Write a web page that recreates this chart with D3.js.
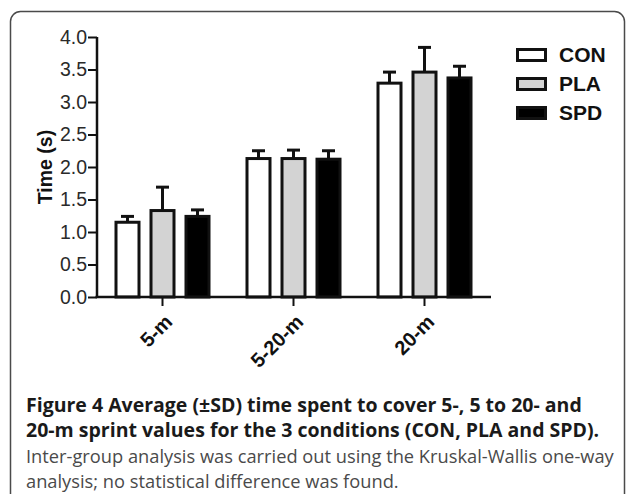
<!DOCTYPE html>
<html>
<head>
<meta charset="utf-8">
<script src="https://cdn.jsdelivr.net/npm/d3@7/dist/d3.min.js"></script>
<style>
  html, body { margin: 0; padding: 0; background: #fff; }
  svg { display: block; }
</style>
</head>
<body>
<svg id="chart" width="627" height="494"></svg>
<script>
// ---- data ----
const groups = ["5-m", "5-20-m", "20-m"];
const series = ["CON", "PLA", "SPD"];
const seriesColors = ["#ffffff", "#d3d3d3", "#000000"];
const conMean = [1.15, 2.13, 3.29];
const plaMean = [1.33, 2.13, 3.46];
const spdMean = [1.24, 2.12, 3.37];
const conSD = [0.09, 0.12, 0.17];
const plaSD = [0.36, 0.13, 0.38];
const spdSD = [0.10, 0.13, 0.18];
const yTicks = [0, 0.5, 1, 1.5, 2, 2.5, 3, 3.5, 4];
const yTitle = "Time (s)";
const captionBold = [
  "Figure 4 Average (\u00b1SD) time spent to cover 5-, 5 to 20- and",
  "20-m sprint values for the 3 conditions (CON, PLA and SPD)."
];
const captionPlain = [
  "Inter-group analysis was carried out using the Kruskal-Wallis one-way",
  "analysis; no statistical difference was found."
];

const means = [conMean, plaMean, spdMean];
const sds = [conSD, plaSD, spdSD];
const rows = [];
groups.forEach((g, gi) => series.forEach((s, si) => {
  rows.push({ g, s, si, mean: means[si][gi], sd: sds[si][gi] });
}));

const svg = d3.select("#chart");

// frame
svg.append("rect")
  .attr("x", 10.5).attr("y", 11.5).attr("width", 614).attr("height", 520)
  .attr("rx", 10).attr("fill", "none").attr("stroke", "#4a4a4a").attr("stroke-width", 1.5);

// scales
const x0 = d3.scaleBand().domain(groups).range([97, 490]).paddingInner(0).paddingOuter(0);
const x1 = d3.scalePoint().domain(series).range([-35, 35]);
const y = d3.scaleLinear().domain([0, 4]).range([297, 37]);

const barW = 23;
const ink = "#111";
const chartFont = "Liberation Sans, Arial, sans-serif";

const g = svg.append("g");
const cx = d => x0(d.g) + x0.bandwidth() / 2 + x1(d.s);

// error bars (upper only)
g.selectAll("line.err").data(rows).join("line")
  .attr("class", "err")
  .attr("x1", cx).attr("x2", cx)
  .attr("y1", d => y(d.mean)).attr("y2", d => y(d.mean + d.sd))
  .attr("stroke", ink).attr("stroke-width", 3);
g.selectAll("line.cap").data(rows).join("line")
  .attr("class", "cap")
  .attr("x1", d => cx(d) - 6.5).attr("x2", d => cx(d) + 6.5)
  .attr("y1", d => y(d.mean + d.sd)).attr("y2", d => y(d.mean + d.sd))
  .attr("stroke", ink).attr("stroke-width", 3);

// bars
g.selectAll("rect.bar").data(rows).join("rect")
  .attr("class", "bar")
  .attr("x", d => cx(d) - barW / 2)
  .attr("width", barW)
  .attr("y", d => y(d.mean))
  .attr("height", d => y(0) - y(d.mean))
  .attr("fill", d => seriesColors[d.si])
  .attr("stroke", ink).attr("stroke-width", 3);

// y axis
const yAxis = svg.append("g").attr("transform", "translate(97,0)")
  .call(d3.axisLeft(y).tickValues(yTicks).tickFormat(d3.format(".1f")).tickSize(9).tickPadding(1));
yAxis.select(".domain").attr("d", `M0,${y(4)}V${y(0)}`).attr("stroke", ink).attr("stroke-width", 2.5);
yAxis.selectAll(".tick line").attr("stroke", ink).attr("stroke-width", 2);
yAxis.selectAll(".tick text")
  .attr("font-family", chartFont)
  .attr("font-size", 19.5).attr("fill", "#2a2a2a");

// x axis
const xAxis = svg.append("g").attr("transform", `translate(0,${y(0)})`)
  .call(d3.axisBottom(x0).tickSize(9).tickSizeOuter(0).tickFormat(""));
xAxis.select(".domain").attr("d", `M95.5,0H491`).attr("stroke", ink).attr("stroke-width", 2.5);
xAxis.selectAll(".tick line").attr("stroke", ink).attr("stroke-width", 2);

// x labels rotated
svg.append("g").selectAll("text").data(groups).join("text")
  .attr("transform", d => `translate(${x0(d) + x0.bandwidth() / 2 + 1},${y(0) + 16}) rotate(-45)`)
  .attr("text-anchor", "end")
  .attr("dy", "0.72em")
  .attr("font-family", chartFont)
  .attr("font-weight", "bold").attr("font-size", 20).attr("fill", "#111")
  .text(d => d);

// y title
svg.append("text")
  .attr("transform", `translate(52,${(y(4) + y(0)) / 2}) rotate(-90)`)
  .attr("text-anchor", "middle")
  .attr("font-family", chartFont)
  .attr("font-weight", "bold").attr("font-size", 19.5).attr("fill", "#111")
  .text(yTitle);

// legend
const leg = svg.append("g").selectAll("g").data(series).join("g")
  .attr("transform", (d, i) => `translate(517.5,${49.5 + i * 29})`);
leg.append("rect").attr("width", 28).attr("height", 11)
  .attr("fill", (d, i) => seriesColors[i]).attr("stroke", ink).attr("stroke-width", 3);
leg.append("text").attr("x", 41.5).attr("y", 12)
  .attr("font-family", chartFont)
  .attr("font-weight", "bold").attr("font-size", 21).attr("fill", "#111")
  .text(d => d);

// caption
function fit(sel, target) {
  const w = sel.node().getComputedTextLength();
  const fs = parseFloat(sel.attr("font-size"));
  sel.attr("font-size", (fs * target / w).toFixed(2));
}
const capFont = "'Open Sans', 'Noto Sans', sans-serif";
const b1 = svg.append("text").attr("x", 26).attr("y", 412)
  .attr("font-family", capFont).attr("font-weight", 700).attr("font-size", 18).attr("fill", "#1a1a1a")
  .text(captionBold[0]);
fit(b1, 556);
svg.append("text").attr("x", 26).attr("y", 437)
  .attr("font-family", capFont).attr("font-weight", 700).attr("font-size", b1.attr("font-size")).attr("fill", "#1a1a1a")
  .text(captionBold[1]);
const p1 = svg.append("text").attr("x", 26).attr("y", 463)
  .attr("font-family", capFont).attr("font-weight", 400).attr("font-size", 17).attr("fill", "#4a4a4a")
  .text(captionPlain[0]);
fit(p1, 588);
svg.append("text").attr("x", 26).attr("y", 488)
  .attr("font-family", capFont).attr("font-weight", 400).attr("font-size", p1.attr("font-size")).attr("fill", "#4a4a4a")
  .text(captionPlain[1]);
</script>
</body>
</html>
